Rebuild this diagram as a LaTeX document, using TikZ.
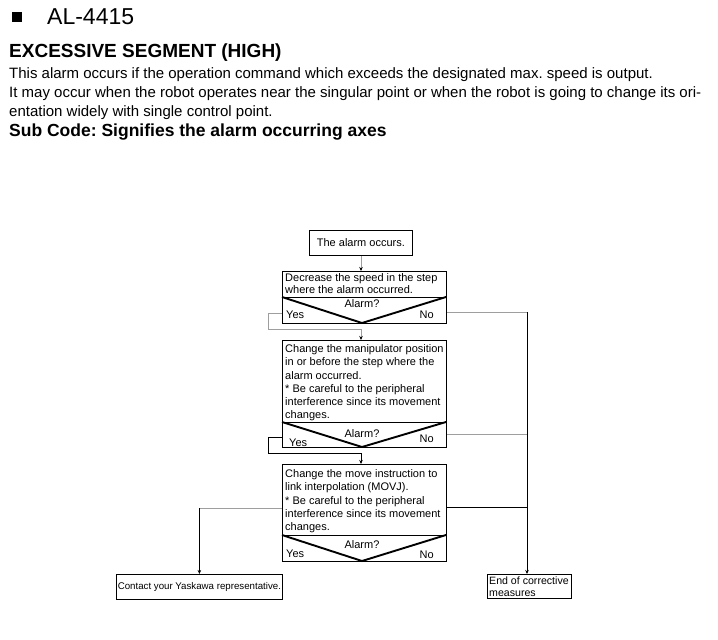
\documentclass[tikz,border=0pt]{standalone}
\usepackage{fontspec}
\setmainfont{Liberation Sans}
\usetikzlibrary{arrows.meta}
\frenchspacing
\begin{document}
\begin{tikzpicture}[x=1pt,y=-1pt,
  box/.style={draw, line width=0.8pt, inner sep=0pt, anchor=north west},
  txt/.style={inner sep=0pt, anchor=north west, align=left, font=\fontsize{11}{13.3}\selectfont},
  lbl/.style={inner sep=0pt, font=\fontsize{11}{13}\selectfont},
  vline/.style={line width=1.9pt, line join=miter},
  gline/.style={draw=black!38, line width=1pt},
  bline/.style={draw=black, line width=0.8pt},
  tip/.style={-{Stealth[length=4pt,width=3.5pt,black]}},
  head/.style={inner sep=0pt, anchor=base west}
]
\useasboundingbox (0,0) rectangle (718,640);
% header
\node[fill=black, minimum size=10pt, inner sep=0pt] (bullet) at (17,17) {};
\node[head, font=\fontsize{23}{23}\selectfont] (code) at (47,24) {AL-4415};
\node[head, font=\bfseries\fontsize{19}{19}\selectfont] (title) at (9,57) {EXCESSIVE SEGMENT (HIGH)};
\node[head, font=\fontsize{15}{15}\selectfont] (l1) at (9,78) {This alarm occurs if the operation command which exceeds the designated max. speed is output.};
\node[head, font=\fontsize{15}{15}\selectfont] (l2) at (9,97) {It may occur when the robot operates near the singular point or when the robot is going to change its ori-};
\node[head, font=\fontsize{15}{15}\selectfont] (l3) at (9,116) {entation widely with single control point.};
\node[head, font=\bfseries\fontsize{17.5}{17.5}\selectfont] (sub) at (9,136) {Sub Code: Signifies the alarm occurring axes};

% start box
\node[box, minimum width=103pt, minimum height=25pt, anchor=north west] (st) at (309,230) {};
\node[lbl] (stt) at (st.center) {The alarm occurs.};

% box 1
\node[box, minimum width=164pt, minimum height=52pt] (b1) at (282,271) {};
\node[txt, font=\fontsize{11}{12.6}\selectfont] (t1) at (285,273) {Decrease the speed in the step\\where the alarm occurred.};
\draw[bline] (282,297) -- (446,297);
\draw[vline] (282,297) -- (362,323) -- (446,297);
\node[lbl, anchor=base] (a1) at (362,307) {Alarm?};
\node[lbl, anchor=base west] (y1) at (286,318) {Yes};
\node[lbl, anchor=base east] (n1) at (434,318) {No};

% box 2
\node[box, minimum width=164pt, minimum height=107pt] (b2) at (282,340) {};
\node[txt] (t2) at (285,344.3) {Change the manipulator position\\in or before the step where the\\alarm occurred.\\* Be careful to the peripheral\\interference since its movement\\changes.};
\draw[bline] (282,422) -- (446,422);
\draw[vline] (282,422) -- (362,447) -- (446,422);
\node[lbl, anchor=base] (a2) at (362,437) {Alarm?};
\node[lbl, anchor=base west] (y2) at (289,446) {Yes};
\node[lbl, anchor=base east] (n2) at (434,442) {No};

% box 3
\node[box, minimum width=164pt, minimum height=97pt] (b3) at (282,464) {};
\node[txt] (t3) at (285,469.3) {Change the move instruction to\\link interpolation (MOVJ).\\* Be careful to the peripheral\\interference since its movement\\changes.};
\draw[bline] (282,535) -- (446,535);
\draw[vline] (282,535) -- (362,561) -- (446,535);
\node[lbl, anchor=base] (a3) at (362,548) {Alarm?};
\node[lbl, anchor=base west] (y3) at (286,557) {Yes};
\node[lbl, anchor=base east] (n3) at (434,558) {No};

% end boxes
\node[box, minimum width=166pt, minimum height=25pt] (ct) at (116,574) {};
\node[inner sep=0pt, font=\fontsize{9.7}{11}\selectfont] (ctt) at (ct.center) {Contact your Yaskawa representative.};
\node[box, minimum width=84pt, minimum height=24pt] (en) at (487,574) {};
\node[txt, font=\fontsize{10.6}{12}\selectfont] (ent) at (489,576.5) {End of corrective\\measures};

% junctions
\coordinate (j1) at (361,329);
\coordinate (j2) at (361,453);
\coordinate (rv) at (527,312);

% connectors
\draw[gline, tip] (st.south -| 361,0) -- (b1.north -| 361,0);
\draw[gline] (b1.west |- 0,313) -- (268,313) |- (j1);
\draw[gline, tip] (j1) -- (j1 |- b2.north);
\draw[gline] (b1.east |- 0,312) -- (rv);
\draw[bline, tip] (rv) -- (rv |- en.north);
\draw[gline] (b2.east |- 0,434) -- (rv |- 0,434);
\draw[bline] (b2.west |- 0,437) -- (268,437) |- (j2);
\draw[bline, tip] (j2) -- (j2 |- b3.north);
\draw[gline] (b3.west |- 0,508) -- (ct.north |- 0,508);
\draw[bline, tip] (ct.north |- 0,508) -- (ct.north);
\draw[bline] (b3.east |- 0,507) -- (rv |- 0,507);
\end{tikzpicture}
\end{document}
